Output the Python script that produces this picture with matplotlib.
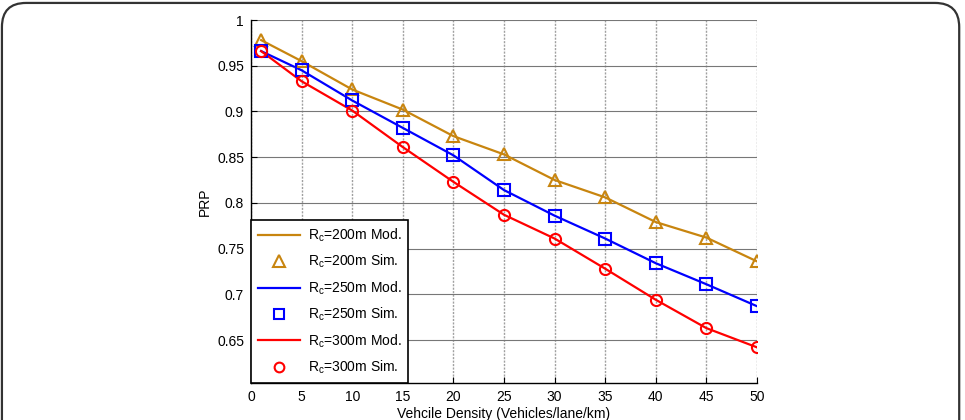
import matplotlib
matplotlib.use("Agg")
import matplotlib.pyplot as plt
from matplotlib.patches import FancyBboxPatch
from matplotlib.lines import Line2D

plt.rcParams['font.family'] = ['Liberation Sans', 'DejaVu Sans']
plt.rcParams['mathtext.default'] = 'regular'

density = [1, 5, 10, 15, 20, 25, 30, 35, 40, 45, 50]

mod_200 = [0.978, 0.955, 0.924, 0.902, 0.873, 0.853, 0.825, 0.806, 0.779, 0.762, 0.736]
sim_200 = [0.978, 0.955, 0.924, 0.902, 0.873, 0.853, 0.825, 0.806, 0.779, 0.762, 0.736]
mod_250 = [0.966, 0.945, 0.912, 0.882, 0.852, 0.814, 0.786, 0.761, 0.734, 0.711, 0.687]
sim_250 = [0.966, 0.945, 0.912, 0.882, 0.852, 0.814, 0.786, 0.761, 0.734, 0.711, 0.687]
mod_300 = [0.966, 0.933, 0.901, 0.861, 0.823, 0.787, 0.761, 0.728, 0.694, 0.663, 0.642]
sim_300 = [0.966, 0.933, 0.901, 0.861, 0.823, 0.787, 0.761, 0.728, 0.694, 0.663, 0.642]

labels = [r'R$_c$=200m Mod.', r'R$_c$=200m Sim.',
          r'R$_c$=250m Mod.', r'R$_c$=250m Sim.',
          r'R$_c$=300m Mod.', r'R$_c$=300m Sim.']
xticks = [0, 5, 10, 15, 20, 25, 30, 35, 40, 45, 50]
yticks = [0.65, 0.7, 0.75, 0.8, 0.85, 0.9, 0.95, 1.0]
ytick_labels = ['0.65', '0.7', '0.75', '0.8', '0.85', '0.9', '0.95', '1']

gold = '#C8850F'
blue = '#0000FF'
red = '#FF0000'

fig = plt.figure(figsize=(9.65, 4.2), dpi=100)

# outer rounded frame
frame = FancyBboxPatch((0.002, -0.1), 0.992, 1.093,
                       boxstyle="round,pad=0,rounding_size=0.025",
                       transform=fig.transFigure, fill=False,
                       edgecolor='#333333', linewidth=1.6, mutation_aspect=965/420)
fig.patches.append(frame)

ax = fig.add_axes([251/965, 1 - 383/420, (757 - 251)/965, (383 - 20)/420])

ms = 9
ax.plot(density, mod_200, color=gold, lw=1.6, zorder=3)
ax.plot(density, sim_200, ls='none', marker='^', ms=ms, mfc='none', mec=gold, mew=1.5, zorder=4)
ax.plot(density, mod_250, color=blue, lw=1.6, zorder=3)
ax.plot(density, sim_250, ls='none', marker='s', ms=ms - 1, mfc='none', mec=blue, mew=1.5, zorder=4)
ax.plot(density, mod_300, color=red, lw=1.6, zorder=3)
ax.plot(density, sim_300, ls='none', marker='o', ms=ms - 1, mfc='none', mec=red, mew=1.5, zorder=4)

ax.set_xlim(0, 50)
ax.set_ylim(0.603, 1.0)
ax.set_xticks(xticks)
ax.set_yticks(yticks)
ax.set_yticklabels(ytick_labels)

for x in xticks:
    ax.axvline(x, color='#a0a0a0', lw=1.0, ls=(0, (1.5, 1.0)), zorder=1)
for y in yticks:
    ax.axhline(y, color='#777777', lw=0.8, zorder=1)

ax.spines['top'].set_visible(False)
ax.spines['right'].set_visible(False)
ax.spines['left'].set_linewidth(1.0)
ax.spines['bottom'].set_linewidth(1.0)
ax.tick_params(direction='in', length=4, labelsize=10, width=0.8, pad=5)

ax.set_xlabel('Vehcile Density (Vehicles/lane/km)', fontsize=10, labelpad=2)
ax.set_ylabel('PRP', fontsize=10, labelpad=4)

handles = [
    Line2D([], [], color=gold, lw=1.6),
    Line2D([], [], ls='none', marker='^', ms=ms - 1, mfc='none', mec=gold, mew=1.5),
    Line2D([], [], color=blue, lw=1.6),
    Line2D([], [], ls='none', marker='s', ms=ms - 2, mfc='none', mec=blue, mew=1.5),
    Line2D([], [], color=red, lw=1.6),
    Line2D([], [], ls='none', marker='o', ms=ms - 2, mfc='none', mec=red, mew=1.5),
]
leg = ax.legend(handles, labels, loc='lower left', bbox_to_anchor=(0, 0),
                borderaxespad=0, fancybox=False, framealpha=1, edgecolor='black',
                fontsize=10, handlelength=3.0, labelspacing=0.65, numpoints=1,
                borderpad=0.5, handletextpad=0.6)
leg.get_frame().set_linewidth(1.2)
leg.set_zorder(10)

fig.savefig('out.png', dpi=100)
